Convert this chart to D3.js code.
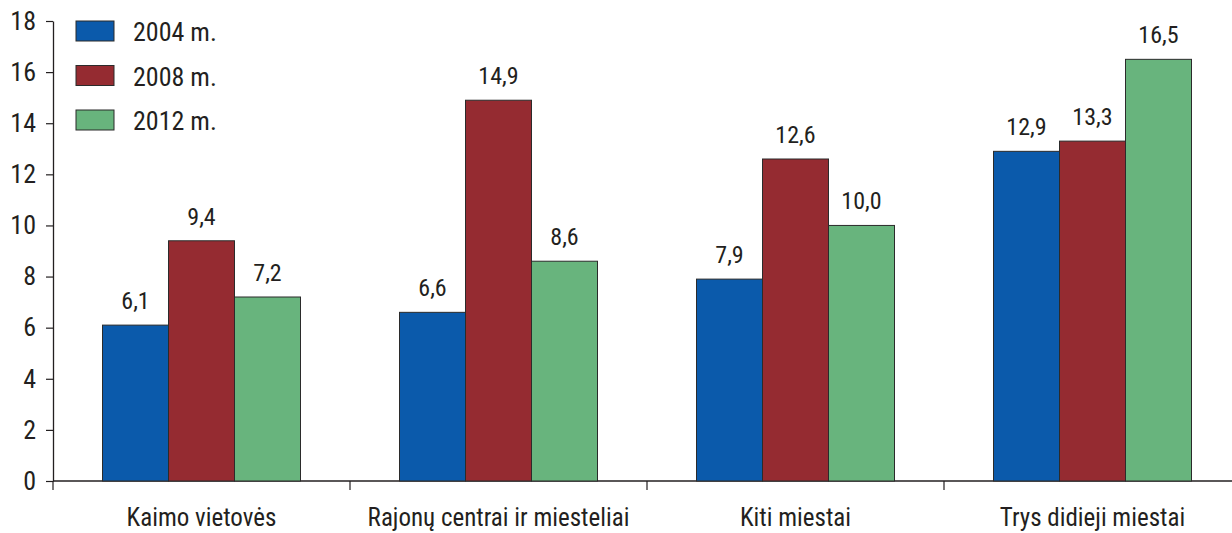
<!DOCTYPE html>
<html>
<head>
<meta charset="utf-8">
<script src="https://cdn.jsdelivr.net/npm/d3@7"></script>
<style>
  body { margin: 0; background: #fff; }
  svg text { font-family: "Liberation Sans Narrow", "Roboto Condensed", "Liberation Sans", sans-serif; fill: #231f20; font-weight: 400; }
</style>
</head>
<body>
<svg></svg>
<script>
// chart data
const categories = ["Kaimo vietovės", "Rajonų centrai ir miesteliai", "Kiti miestai", "Trys didieji miestai"];
const years = ["2004 m.", "2008 m.", "2012 m."];
const values2004 = [6.1, 6.6, 7.9, 12.9];
const values2008 = [9.4, 14.9, 12.6, 13.3];
const values2012 = [7.2, 8.6, 10.0, 16.5];
const yTicks = [0, 2, 4, 6, 8, 10, 12, 14, 16, 18];
const colors = ["#0b5aab", "#952b31", "#68b47d"];

const width = 1232, height = 533;
const svg = d3.select("svg")
    .attr("width", width)
    .attr("height", height);

const series = [values2004, values2008, values2012];
const rows = categories.map((c, i) => ({ cat: c, vals: series.map(s => s[i]) }));

// scales
const x0 = d3.scaleBand()
    .domain(categories)
    .range([53, 53 + 4 * 297])
    .paddingInner(1 / 3)
    .paddingOuter(1 / 6);

const x1 = d3.scaleBand()
    .domain(d3.range(years.length))
    .range([0, x0.bandwidth()]);

const y = d3.scaleLinear()
    .domain([0, 18])
    .range([481, 21]);

// y axis
const yAxis = svg.append("g")
    .attr("transform", "translate(53,0)")
    .call(d3.axisLeft(y).tickValues(yTicks).tickSize(7).tickSizeOuter(0).tickPadding(10));
yAxis.select(".domain").attr("stroke", "#231f20").attr("stroke-width", 1.3);
yAxis.selectAll(".tick line").attr("stroke", "#231f20").attr("stroke-width", 1.2);
yAxis.selectAll(".tick text").style("font-size", "26px").attr("fill", "#231f20");

// x axis with ticks at group boundaries
const xAxisG = svg.append("g").attr("transform", `translate(0,${y(0)})`);
xAxisG.append("line")
    .attr("x1", 53).attr("x2", width)
    .attr("stroke", "#231f20").attr("stroke-width", 1.3);
const step = x0.step();
xAxisG.selectAll("line.bound")
    .data(d3.range(categories.length + 1))
    .enter().append("line")
    .attr("class", "bound")
    .attr("x1", i => x0(categories[0]) - x0.paddingOuter() * step + i * step)
    .attr("x2", i => x0(categories[0]) - x0.paddingOuter() * step + i * step)
    .attr("y1", 0).attr("y2", 9)
    .attr("stroke", "#231f20").attr("stroke-width", 1.2);

xAxisG.selectAll("text.cat")
    .data(categories)
    .enter().append("text")
    .attr("class", "cat")
    .attr("x", d => x0(d) + x0.bandwidth() / 2)
    .attr("y", 45)
    .attr("text-anchor", "middle")
    .style("font-size", "25px")
    .text(d => d);

// bars
const groups = svg.selectAll("g.grp")
    .data(rows)
    .enter().append("g")
    .attr("class", "grp")
    .attr("transform", d => `translate(${x0(d.cat)},0)`);

groups.selectAll("rect")
    .data(d => d.vals)
    .enter().append("rect")
    .attr("x", (d, i) => x1(i))
    .attr("y", d => y(d))
    .attr("width", x1.bandwidth())
    .attr("height", d => y(0) - y(d))
    .attr("fill", (d, i) => colors[i])
    .attr("stroke", "#2b2b2b")
    .attr("stroke-width", 1);

const fmt = v => d3.format(".1f")(v).replace(".", ",");
groups.selectAll("text.val")
    .data(d => d.vals)
    .enter().append("text")
    .attr("class", "val")
    .attr("x", (d, i) => x1(i) + x1.bandwidth() / 2)
    .attr("y", d => y(d) - 16)
    .attr("text-anchor", "middle")
    .style("font-size", "24px")
    .text(fmt);

// legend
const legend = svg.selectAll("g.leg")
    .data(years)
    .enter().append("g")
    .attr("class", "leg")
    .attr("transform", (d, i) => `translate(76,${21 + i * 44.5})`);
legend.append("rect")
    .attr("width", 38).attr("height", 20)
    .attr("fill", (d, i) => colors[i])
    .attr("stroke", "#2b2b2b").attr("stroke-width", 1);
legend.append("text")
    .attr("x", 57).attr("y", 20)
    .style("font-size", "26px")
    .text(d => d);
</script>
</body>
</html>
